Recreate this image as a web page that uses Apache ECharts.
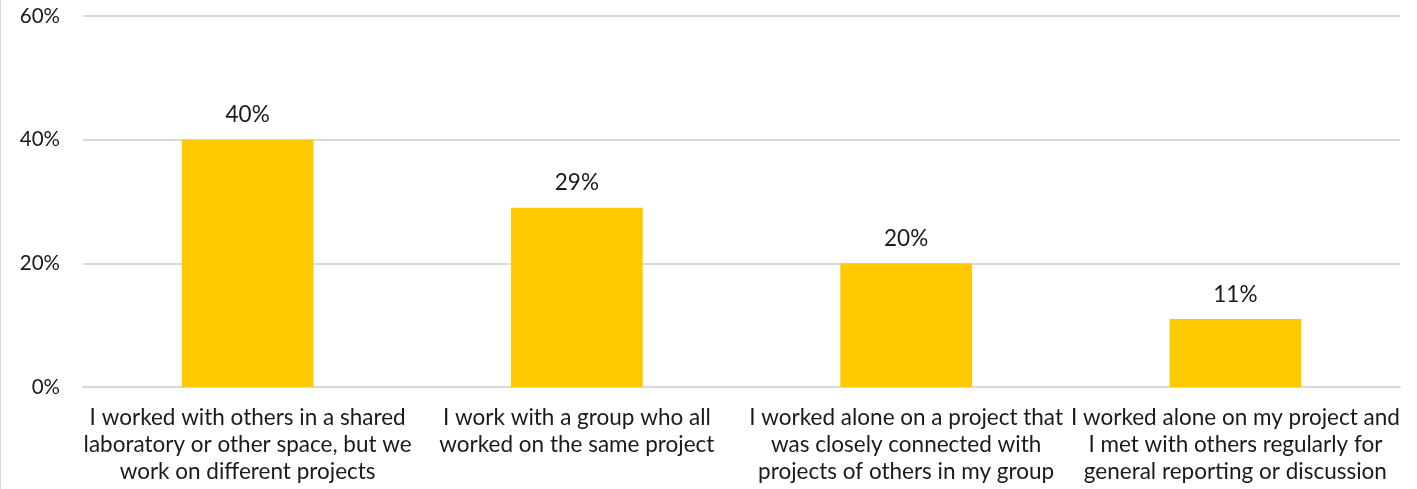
<!DOCTYPE html>
<html>
<head>
<meta charset="utf-8">
<script src="https://cdn.jsdelivr.net/npm/echarts@6/dist/echarts.min.js"></script>
<style>
  html, body { margin: 0; padding: 0; background: #fff; }
  #chart { width: 1417px; height: 489px; box-sizing: border-box; border-left: 1px solid #d9d9d9; }
</style>
</head>
<body>
<div id="chart"></div>
<script>
// Ways respondents worked, share of answers (%)
const categories = [
  "I worked with others in a shared\nlaboratory or other space, but we\nwork on different projects",
  "I work with a group who all\nworked on the same project",
  "I worked alone on a project that\nwas closely connected with\nprojects of others in my group",
  "I worked alone on my project and\nI met with others regularly for\ngeneral reporting or discussion"
];
const shares = [40, 29, 20, 11];
const yTicks = { min: 0, max: 60, interval: 20 };

const FONT = "Lato, 'Open Sans', sans-serif";
const chart = echarts.init(document.getElementById('chart'), null, { renderer: 'canvas' });
chart.setOption({
  animation: false,
  grid: { left: 82, right: 17, top: 16, bottom: 102, containLabel: false },
  xAxis: {
    type: 'category',
    data: categories,
    axisLine: { lineStyle: { color: '#d9d9d9', width: 2 } },
    axisTick: { show: false },
    axisLabel: {
      interval: 0, color: '#1a1a1a', fontFamily: FONT, fontSize: 22.5,
      lineHeight: 27, margin: 17, align: 'center'
    }
  },
  yAxis: {
    type: 'value',
    min: yTicks.min, max: yTicks.max, interval: yTicks.interval,
    axisLine: { show: false },
    axisTick: { show: false },
    splitLine: { lineStyle: { color: '#d9d9d9', width: 2 } },
    axisLabel: {
      formatter: '{value}%', color: '#1a1a1a', fontFamily: FONT, fontSize: 20.5,
      margin: 23, padding: [6, 0, 0, 0]
    }
  },
  series: [{
    type: 'bar',
    data: shares,
    barWidth: '40%',
    itemStyle: { color: '#FFC900' },
    label: {
      show: true, position: 'top', distance: 13,
      formatter: '{c}%', color: '#1a1a1a', fontFamily: FONT, fontSize: 22.5
    }
  }]
});
</script>
</body>
</html>
